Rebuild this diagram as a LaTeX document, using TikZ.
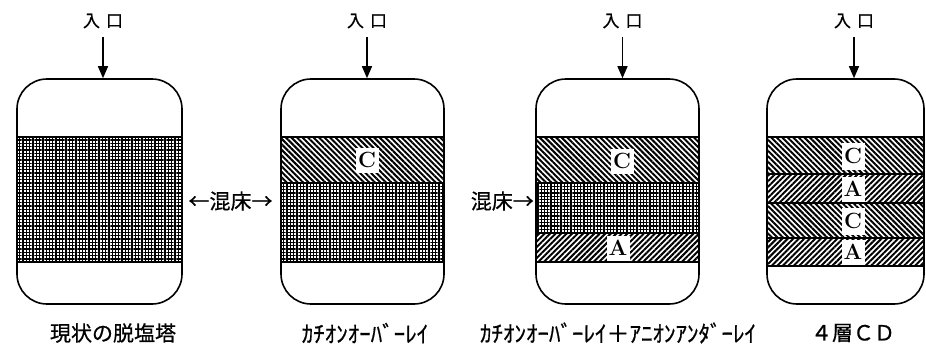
\documentclass[tikz,border=0pt]{standalone}
\usepackage{fontspec}
\newfontfamily\jp{Noto Sans CJK JP}[FakeBold=0.6]
\usetikzlibrary{patterns.meta,arrows.meta}
\tikzset{
  vessel/.style={draw, line width=1.6pt, rounded corners=30pt, inner sep=0pt, minimum height=225pt},
  mixbed/.style={pattern={Hatch[distance=3.3pt, line width=1.3pt]}},
  catbed/.style={pattern={Lines[angle=-45, distance=3.9pt, line width=2pt]}},
  anibed/.style={pattern={Lines[angle=45, distance=3.9pt, line width=2pt]}},
  bedline/.style={line width=1.2pt},
  lbl/.style={fill=white, inner sep=0pt, minimum width=23pt, minimum height=25pt, font=\fontsize{22}{22}\selectfont\bfseries},
  entry/.style={font=\jp\fontsize{17}{17}\selectfont, inner sep=0pt},
  inarrow/.style={line width=1.4pt, -{Triangle[width=10pt,length=12pt]}},
  jlab/.style={font=\jp\fontsize{21}{21}\selectfont, inner sep=0pt},
  hlab/.style={font=\jp\fontsize{23}{23}\selectfont, inner sep=0pt},
}
\begin{document}
\begin{tikzpicture}[x=1pt, y=-1pt]
\useasboundingbox (0,0) rectangle (926,348);
\fill[white] (0,0) rectangle (926,348);

% ---------- vessel 1 ----------
\path[mixbed] (17,137) rectangle (182,262);
\draw[bedline] (17,137) -- (182,137) (17,262) -- (182,262);
\node[vessel, minimum width=165pt] (v1) at (99.5,191.5) {};

% ---------- vessel 2 ----------
\path[catbed] (281,137) rectangle (444,183);
\path[mixbed] (281,183) rectangle (444,262);
\draw[bedline] (281,137) -- (444,137) (281,183) -- (444,183) (281,262) -- (444,262);
\node[vessel, minimum width=163pt] (v2) at (362.5,191.5) {};
\node[lbl] (c2) at (367,160) {C};

% ---------- vessel 3 ----------
\path[catbed] (536,137) rectangle (699,183);
\path[mixbed] (536,183) rectangle (699,233);
\path[anibed] (536,233) rectangle (699,262);
\draw[bedline] (536,137) -- (699,137) (536,183) -- (699,183) (536,233) -- (699,233) (536,262) -- (699,262);
\node[vessel, minimum width=163pt] (v3) at (617.5,191.5) {};
\node[lbl] (c3) at (622,161) {C};
\node[lbl] (a3) at (618,248) {A};

% ---------- vessel 4 ----------
\path[catbed] (766,137) rectangle (924,174);
\path[anibed] (766,174) rectangle (924,203);
\path[catbed] (766,203) rectangle (924,238);
\path[anibed] (766,238) rectangle (924,266);
\draw[bedline] (766,137) -- (924,137) (766,174) -- (924,174) (766,203) -- (924,203) (766,238) -- (924,238) (766,266) -- (924,266);
\node[vessel, minimum width=157pt] (v4) at (845.5,191.5) {};
\node[lbl, minimum height=27pt] (c4a) at (853,156) {C};
\node[lbl] (a4a) at (853,189) {A};
\node[lbl, minimum height=27pt] (c4b) at (853,221) {C};
\node[lbl] (a4b) at (853,252) {A};

% ---------- inlets ----------
\node[entry] (e1) at (103,21) {入\hspace{6pt}口};
\node[entry] (e2) at (367,21) {入\hspace{6pt}口};
\node[entry] (e3) at (622.5,21) {入\hspace{6pt}口};
\node[entry] (e4) at (854,21) {入\hspace{6pt}口};
\draw[inarrow] ([yshift=-9pt]e1.south) -- (e1.south |- v1.north);
\draw[inarrow] ([yshift=-9pt]e2.south) -- (e2.south |- v2.north);
\draw[inarrow] ([yshift=-9pt]e3.south) -- (e3.south |- v3.north);
\draw[inarrow] ([yshift=-9pt]e4.south) -- (e4.south |- v4.north);

% ---------- mixed-bed labels ----------
\node[jlab] (m1) at (230.5,201) {←混床→};
\node[jlab, anchor=east] (m2) at (534,201) {混床→};

% ---------- captions ----------
\node[jlab] (t1) at (113,333) {現状の脱塩塔};
\node[hlab] (t2) at (365,333) {ｶﾁｵﾝｵｰﾊﾞｰﾚｲ};
\node[hlab] (t3) at (618,333) {ｶﾁｵﾝｵｰﾊﾞｰﾚｲ＋ｱﾆｵﾝｱﾝﾀﾞｰﾚｲ};
\node[jlab] (t4) at (853,333) {４層ＣＤ};
\end{tikzpicture}
\end{document}
